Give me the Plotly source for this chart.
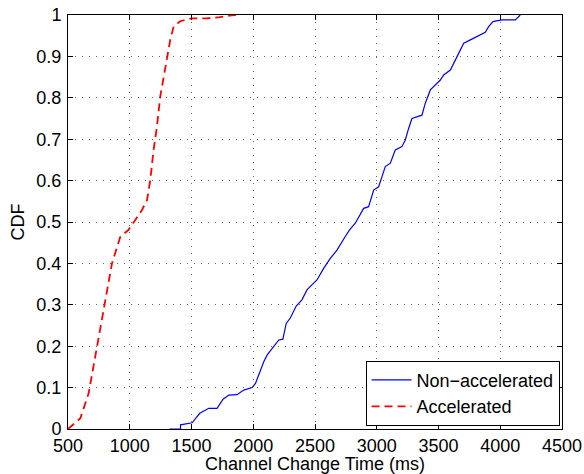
import plotly.graph_objects as go

# Non-accelerated CDF (ms, CDF)
non_acc_x = [1322, 1411, 1411, 1505, 1567, 1640, 1707, 1756, 1802, 1869, 1923, 1991, 2018, 2053,
             2086, 2113, 2167, 2207, 2240, 2267, 2300, 2348, 2394, 2435, 2475, 2516, 2570, 2624,
             2678, 2705, 2745, 2780, 2826, 2894, 2934, 2975, 3015, 3042, 3069, 3110, 3150, 3204,
             3231, 3258, 3285, 3366, 3393, 3434, 3474, 3515, 3542, 3596, 3636, 3663, 3704, 3758,
             3812, 3879, 3906, 3941, 4014, 4122, 4162]
non_acc_y = [0, 0, 0.01, 0.015, 0.038, 0.05, 0.05, 0.072, 0.082, 0.083, 0.094, 0.1, 0.11, 0.138,
             0.163, 0.179, 0.199, 0.215, 0.217, 0.255, 0.268, 0.297, 0.312, 0.336, 0.348, 0.36, 0.388, 0.412,
             0.432, 0.444, 0.465, 0.481, 0.497, 0.533, 0.537, 0.577, 0.585, 0.609, 0.634, 0.642, 0.674, 0.682,
             0.698, 0.726, 0.75, 0.758, 0.787, 0.819, 0.831, 0.843, 0.855, 0.867, 0.891, 0.907, 0.932, 0.94,
             0.948, 0.958, 0.972, 0.984, 0.988, 0.988, 1.0]

# Accelerated CDF
acc_x = [500, 600, 667, 735, 788, 856, 923, 990, 1045, 1099, 1140, 1166, 1193, 1220, 1247, 1274,
         1301, 1328, 1355, 1409, 1503, 1624, 1732, 1840, 1900]
acc_y = [0, 0.026, 0.086, 0.199, 0.295, 0.4, 0.464, 0.481, 0.505, 0.529, 0.553, 0.601, 0.674, 0.73,
         0.803, 0.851, 0.899, 0.94, 0.972, 0.985, 0.992, 0.992, 0.995, 1.0, 1.0]

x_ticks = [500, 1000, 1500, 2000, 2500, 3000, 3500, 4000, 4500]
y_ticks = [0, 0.1, 0.2, 0.3, 0.4, 0.5, 0.6, 0.7, 0.8, 0.9, 1]

FONT = "Liberation Sans, Arial, sans-serif"
FS = 18

fig = go.Figure()
fig.add_trace(go.Scatter(x=non_acc_x, y=non_acc_y, mode="lines", name="Non\u2212accelerated",
                         line=dict(color="#0000FF", width=1.2)))
fig.add_trace(go.Scatter(x=acc_x, y=acc_y, mode="lines", name="Accelerated",
                         line=dict(color="#FF0000", width=1.8, dash="8px,5px")))

axis_common = dict(
    showline=True, linecolor="black", linewidth=1, mirror="ticks",
    ticks="inside", ticklen=5, tickcolor="black", tickwidth=1,
    showgrid=True, gridcolor="#666666", gridwidth=1, griddash="1px,6px",
    zeroline=False, automargin=False,
    tickfont=dict(family=FONT, size=FS, color="black"),
)

fig.update_layout(
    width=584, height=474,
    margin=dict(l=68, r=22, t=15, b=45),
    paper_bgcolor="white", plot_bgcolor="white",
    font=dict(family=FONT, size=FS, color="black"),
    xaxis=dict(range=[500, 4500], tickvals=x_ticks,
               title=dict(text="Channel Change Time (ms)", font=dict(family=FONT, size=FS), standoff=0),
               **axis_common),
    yaxis=dict(range=[0, 1], tickvals=y_ticks, ticklabelstandoff=2,
               title=dict(text="CDF", font=dict(family=FONT, size=FS), standoff=7),
               **axis_common),
    legend=dict(x=0.995, y=0.008, xanchor="right", yanchor="bottom",
                bgcolor="white", bordercolor="black", borderwidth=1,
                font=dict(family=FONT, size=FS), tracegroupgap=0,
                itemwidth=40),
    showlegend=True,
)

fig.write_html("out.html", config={"displayModeBar": False},
               post_script="document.body.style.margin='0px';document.body.style.overflow='hidden';")
